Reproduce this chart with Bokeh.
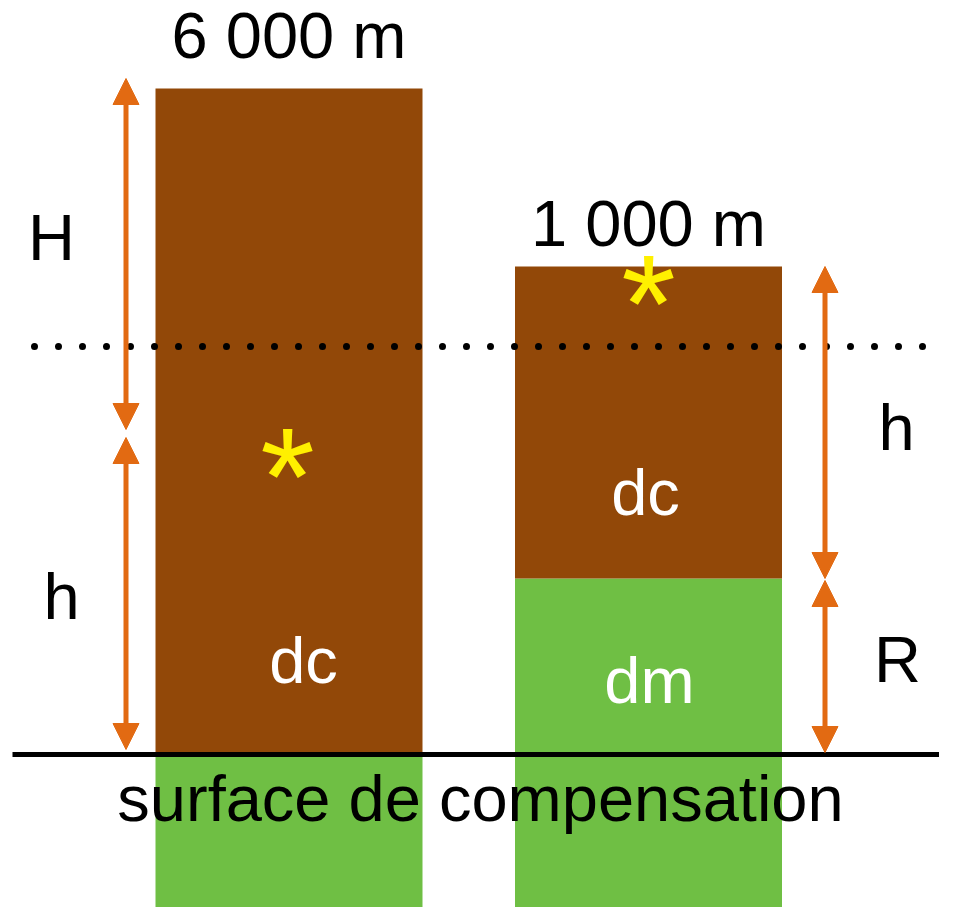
from bokeh.plotting import figure
from bokeh.models import Range1d, Arrow, NormalHead, ColumnDataSource
from bokeh.core.properties import value
from bokeh.embed import file_html
from bokeh.resources import INLINE

# ---- data (vertical unit: height above the compensation surface) ----
column_names = ["montagne", "plaine"]
column_center = [288.5, 648.0]
column_width = 267
crust_top = [665, 487]
crust_base = [0, 175]
mantle_base = [-175, -175]
top_labels = ["6 000 m", "1 000 m"]
reference_level = 407
ground_level = 0

arrow_x = [125.5, 125.5, 824.5, 824.5]
arrow_from = [675, 316, 487, 173]
arrow_to = [324, 4, 175, 1]
arrow_names = ["H", "h", "h", "R"]

BROWN = "#924808"
GREEN = "#6FBF44"
ORANGE = "#E26A12"
YELLOW = "#FFF000"
FONT = value("Liberation Sans")
T = 25  # baseline correction for text glyphs

p = figure(width=939, height=907, output_backend="svg", toolbar_location=None,
           x_axis_type=None, y_axis_type=None,
           x_range=Range1d(0, 939), y_range=Range1d(-154, 753),
           min_border=0, outline_line_color=None)
p.grid.visible = False
p.background_fill_color = "white"
p.border_fill_color = "white"

# columns: crust (brown) over mantle root (green)
left = [c - column_width / 2 for c in column_center]
right = [c + column_width / 2 for c in column_center]
p.quad(left=left, right=right, bottom=mantle_base, top=crust_base,
       fill_color=GREEN, line_color=None)
p.quad(left=left, right=right, bottom=crust_base, top=crust_top,
       fill_color=BROWN, line_color=None)

# compensation surface
p.segment(x0=[12], x1=[948], y0=[ground_level - 1], y1=[ground_level - 1],
          line_color="black", line_width=5)

# dotted reference level
p.line(x=[34, 948], y=[reference_level, reference_level], line_color="black",
       line_width=7, line_dash="0 24", line_cap="round")

# arrows
src = ColumnDataSource(dict(x=arrow_x, y0=arrow_from, y1=arrow_to))
head = dict(size=26, fill_color=ORANGE, line_color=ORANGE, line_width=1)
p.add_layout(Arrow(start=NormalHead(**head), end=NormalHead(**head),
                   x_start="x", y_start="y0", x_end="x", y_end="y1",
                   source=src, line_color=ORANGE, line_width=5))

# heights labels on top
p.text(x=column_center, y=[693 + T, 505 + T], text=top_labels, text_font=FONT,
       text_font_size="65px", text_align="center", text_baseline="alphabetic",
       text_color="black")

# arrow labels
p.text(x=[51, 61, 896, 897], y=[491 + T, 132 + T, 301 + T, 69 + T],
       text=arrow_names, text_font=FONT, text_font_size="65px",
       text_align="center", text_baseline="alphabetic", text_color="black")

# density labels
p.text(x=[303, 645, 649], y=[68 + T, 236 + T, 48 + T], text=["dc", "dc", "dm"],
       text_font=FONT, text_font_size="65px", text_align="center",
       text_baseline="alphabetic", text_color="white")

# compensation surface label
p.text(x=[480], y=[-70 + T], text=["surface de compensation"], text_font=FONT,
       text_font_size="65px", text_align="center", text_baseline="alphabetic",
       text_color="black")

# stars
p.text(x=[287, 648], y=[277, 450], text=["*", "*"], text_font=FONT,
       text_font_size="140px", text_align="center", text_baseline="alphabetic",
       text_color=YELLOW)

open("out.html", "w").write(file_html(p, INLINE))
